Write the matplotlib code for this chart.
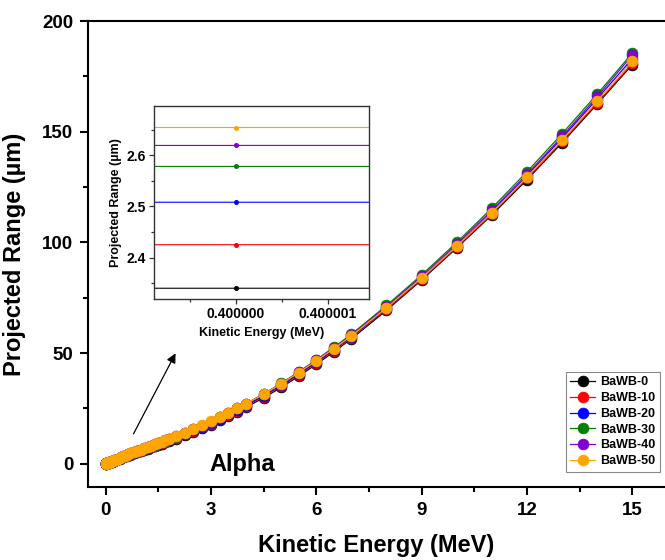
import matplotlib
matplotlib.use("Agg")
import matplotlib.pyplot as plt
from matplotlib.ticker import FixedLocator, FuncFormatter, MultipleLocator

plt.rcParams['font.family'] = ['Liberation Sans', 'DejaVu Sans']
plt.rcParams['font.weight'] = 'bold'

# Kinetic energy (MeV)
energy = [0.01, 0.02, 0.03, 0.04, 0.05, 0.06, 0.07, 0.08, 0.09, 0.1,
          0.125, 0.15, 0.175, 0.2, 0.25, 0.3, 0.35, 0.4, 0.45, 0.5,
          0.55, 0.6, 0.65, 0.7, 0.8, 0.9, 1.0, 1.1, 1.2, 1.3,
          1.4, 1.5, 1.6, 1.7, 1.8, 2.0, 2.25, 2.5, 2.75, 3.0,
          3.25, 3.5, 3.75, 4.0, 4.5, 5.0, 5.5, 6.0, 6.5, 7.0,
          8, 9, 10, 11, 12, 13, 14, 15]

# Projected range (um) for each glass
bawb_0 = [0.06, 0.115, 0.17, 0.22, 0.27, 0.325, 0.38, 0.43, 0.485, 0.54,
          0.67, 0.80, 0.935, 1.075, 1.355, 1.675, 2.01, 2.34, 2.65, 2.96,
          3.27, 3.58, 3.89, 4.17, 4.72, 5.22, 5.73, 6.28, 6.83, 7.38,
          7.93, 8.48, 9.04, 9.60, 10.16, 11.28, 12.80, 14.32, 15.95, 17.68,
          19.53, 21.48, 23.45, 25.53, 29.77, 34.44, 39.55, 44.91, 50.54, 56.43,
          69.28, 82.98, 97.5, 112.4, 128.3, 145.0, 162.5, 180.3]
bawb_10 = [0.064, 0.12, 0.175, 0.23, 0.285, 0.34, 0.395, 0.45, 0.505, 0.56,
           0.70, 0.83, 0.97, 1.115, 1.405, 1.74, 2.085, 2.425, 2.75, 3.07,
           3.39, 3.71, 4.03, 4.32, 4.89, 5.41, 5.94, 6.51, 7.08, 7.65,
           8.22, 8.79, 9.37, 9.95, 10.53, 11.68, 13.22, 14.77, 16.42, 18.17,
           20.04, 22.0, 23.98, 26.08, 30.35, 35.05, 40.17, 45.52, 51.12, 56.95,
           69.75, 83.35, 97.9, 112.9, 128.9, 145.6, 163.0, 180.9]
bawb_20 = [0.066, 0.123, 0.18, 0.236, 0.293, 0.35, 0.406, 0.463, 0.52, 0.576,
           0.718, 0.86, 1.0, 1.153, 1.455, 1.795, 2.155, 2.508, 2.84, 3.17,
           3.50, 3.83, 4.16, 4.45, 5.03, 5.57, 6.11, 6.69, 7.27, 7.85,
           8.43, 9.01, 9.60, 10.19, 10.78, 11.94, 13.5, 15.07, 16.74, 18.5,
           20.39, 22.36, 24.35, 26.45, 30.75, 35.45, 40.6, 45.95, 51.55, 57.35,
           70.2, 83.9, 98.5, 113.8, 130.1, 147.1, 164.9, 183.0]
bawb_30 = [0.068, 0.126, 0.184, 0.243, 0.301, 0.359, 0.418, 0.476, 0.534, 0.592,
           0.738, 0.884, 1.03, 1.185, 1.495, 1.845, 2.215, 2.578, 2.92, 3.26,
           3.60, 3.94, 4.28, 4.58, 5.17, 5.72, 6.27, 6.87, 7.47, 8.07,
           8.67, 9.27, 9.87, 10.48, 11.08, 12.29, 13.89, 15.5, 17.21, 19.03,
           20.95, 22.97, 25.0, 27.13, 31.5, 36.3, 41.5, 46.95, 52.6, 58.5,
           71.5, 85.3, 100.0, 115.5, 131.9, 149.1, 167.0, 185.5]
bawb_40 = [0.069, 0.128, 0.187, 0.247, 0.306, 0.365, 0.424, 0.483, 0.542, 0.602,
           0.75, 0.898, 1.046, 1.204, 1.518, 1.874, 2.25, 2.619, 2.96, 3.30,
           3.65, 3.99, 4.34, 4.64, 5.23, 5.78, 6.33, 6.93, 7.53, 8.13,
           8.73, 9.33, 9.93, 10.53, 11.14, 12.34, 13.94, 15.55, 17.25, 19.06,
           20.97, 22.97, 24.98, 27.09, 31.42, 36.18, 41.33, 46.72, 52.3, 58.1,
           70.95, 84.6, 99.2, 114.5, 130.8, 147.9, 165.9, 184.6]
bawb_50 = [0.07, 0.13, 0.19, 0.25, 0.31, 0.37, 0.43, 0.49, 0.55, 0.61,
           0.76, 0.91, 1.06, 1.22, 1.54, 1.90, 2.28, 2.654, 3.00, 3.35,
           3.70, 4.05, 4.40, 4.70, 5.30, 5.85, 6.40, 7.00, 7.60, 8.20,
           8.80, 9.40, 10.00, 10.60, 11.20, 12.40, 14.00, 15.60, 17.30, 19.10,
           21.00, 23.00, 25.00, 27.10, 31.40, 36.10, 41.20, 46.50, 52.00, 57.70,
           70.40, 83.90, 98.30, 113.40, 129.50, 146.30, 163.90, 181.80]

labels = ['BaWB-0', 'BaWB-10', 'BaWB-20', 'BaWB-30', 'BaWB-40', 'BaWB-50']
series = [bawb_0, bawb_10, bawb_20, bawb_30, bawb_40, bawb_50]
colors = ['#000000', '#FF0000', '#0000FF', '#008000', '#8000D0', '#FFA500']

fig = plt.figure(figsize=(6.65, 5.6), dpi=100)
ax = fig.add_axes([0.1323, 0.1304, 0.8677, 0.8321])

for y, c, lab in zip(series, colors, labels):
    ax.plot(energy, y, '-', color=c, lw=0.9, marker='o', ms=7.8,
            mfc=c, mec=c, mew=0.5, label=lab)

ax.set_xlim(-0.5, 15.93)
ax.set_ylim(-10.5, 200)
ax.xaxis.set_major_locator(MultipleLocator(3))
ax.xaxis.set_minor_locator(MultipleLocator(1.5))
ax.yaxis.set_major_locator(MultipleLocator(50))
ax.yaxis.set_minor_locator(MultipleLocator(25))
ax.tick_params(which='major', direction='out', length=6, width=1.5,
               labelsize=13.5, pad=4.5)
ax.tick_params(which='minor', direction='out', length=3.5, width=1.5)
for s in ['left', 'bottom', 'top']:
    ax.spines[s].set_linewidth(1.5)
ax.spines['right'].set_visible(False)
for t in ax.get_xticklabels() + ax.get_yticklabels():
    t.set_fontweight('bold')

ax.set_xlabel('Kinetic Energy (MeV)', fontsize=17, fontweight='bold', labelpad=11)
ax.set_ylabel('Projected Range (\u00b5m)', fontsize=17, fontweight='bold', labelpad=12)

ax.text(3.9, -0.5, 'Alpha', fontsize=17, fontweight='bold', ha='center', va='center')
ax.annotate('', xy=(2.03, 51), xytext=(0.76, 12.4),
            arrowprops=dict(arrowstyle='-|>', color='black', lw=0.9,
                            mutation_scale=14))

leg = ax.legend(loc='upper left', bbox_to_anchor=(0.8511, 0.3357),
                bbox_transform=fig.transFigure,
                prop={'weight': 'bold', 'size': 9}, frameon=True,
                fancybox=False, edgecolor='#888888', framealpha=1,
                borderpad=0.35, labelspacing=0.3, handlelength=2.0,
                handletextpad=0.4, borderaxespad=0)
leg.get_frame().set_linewidth(0.8)

# Inset zoom around 0.4 MeV
ins = fig.add_axes([0.2316, 0.4661, 0.3233, 0.3446])
for y, c in zip(series, colors):
    ins.plot(energy, y, '-', color=c, lw=0.8, marker='o', ms=2.6, mfc=c, mec=c)
ins.set_xlim(0.4 - 0.89e-6, 0.4 + 1.446e-6)
ins.set_ylim(2.319, 2.696)
ins.xaxis.set_major_locator(FixedLocator([0.4, 0.400001]))
ins.xaxis.set_minor_locator(FixedLocator([0.3999995, 0.4000005]))
ins.xaxis.set_major_formatter(FuncFormatter(lambda v, p: f"{v:.6f}"))
ins.yaxis.set_major_locator(FixedLocator([2.4, 2.5, 2.6]))
ins.yaxis.set_minor_locator(FixedLocator([2.35, 2.45, 2.55, 2.65]))
ins.tick_params(which='major', direction='out', length=3.5, width=0.9,
                labelsize=10, pad=2.5, color='#333333')
ins.tick_params(which='minor', direction='out', length=2, width=0.9, color='#333333')
for s in ins.spines.values():
    s.set_linewidth(1.0)
    s.set_color('#333333')
for t in ins.get_xticklabels() + ins.get_yticklabels():
    t.set_fontweight('bold')
ins.set_xlabel('Kinetic Energy (MeV)', fontsize=9, fontweight='bold', labelpad=4)
ins.set_ylabel('Projected Range (\u00b5m)', fontsize=9, fontweight='bold', labelpad=3)

fig.savefig('out.png', dpi=100)
